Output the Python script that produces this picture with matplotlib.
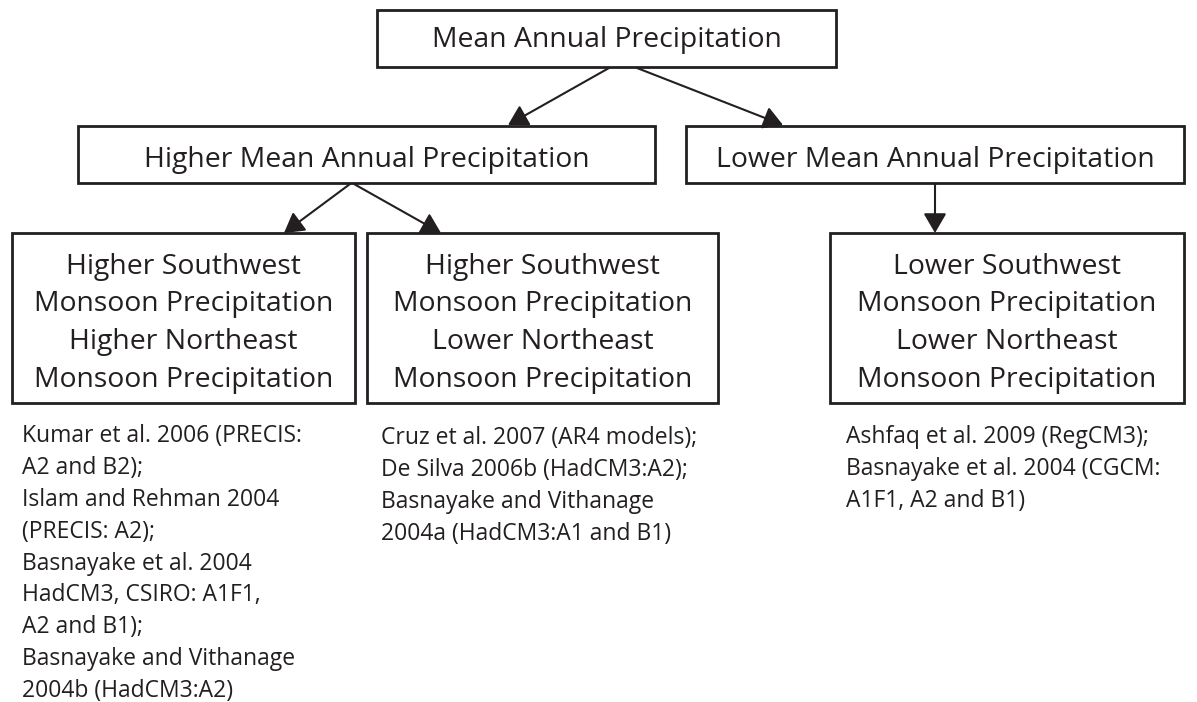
import matplotlib
matplotlib.use("Agg")
import matplotlib.pyplot as plt
from matplotlib.patches import Rectangle, FancyArrowPatch

plt.rcParams['font.family'] = ['Open Sans', 'DejaVu Sans']

# ---- content ----
box_labels = [
    "Mean Annual Precipitation",
    "Higher Mean Annual Precipitation",
    "Lower Mean Annual Precipitation",
    "Higher Southwest\nMonsoon Precipitation\nHigher Northeast\nMonsoon Precipitation",
    "Higher Southwest\nMonsoon Precipitation\nLower Northeast\nMonsoon Precipitation",
    "Lower Southwest\nMonsoon Precipitation\nLower Northeast\nMonsoon Precipitation",
]
# box extents in pixel space (x0, y0, x1, y1), y measured from top
box_extents = [
    (377, 10, 836, 67),
    (78, 126, 655, 183),
    (686, 126, 1184, 183),
    (12, 233, 355, 403),
    (367, 233, 718, 403),
    (830, 233, 1184, 403),
]
# last-line baseline of each box label
box_baselines = [47, 167, 167, 387, 387, 387]

references = [
    "Kumar et al. 2006 (PRECIS:\nA2 and B2);\nIslam and Rehman 2004\n(PRECIS: A2);\nBasnayake et al. 2004\nHadCM3, CSIRO: A1F1,\nA2 and B1);\nBasnayake and Vithanage\n2004b (HadCM3:A2)",
    "Cruz et al. 2007 (AR4 models);\nDe Silva 2006b (HadCM3:A2);\nBasnayake and Vithanage\n2004a (HadCM3:A1 and B1)",
    "Ashfaq et al. 2009 (RegCM3);\nBasnayake et al. 2004 (CGCM:\nA1F1, A2 and B1)",
]
# (left x, last-line baseline)
ref_positions = [(22, 697), (381, 540), (846, 507)]
arrows = [
    ((609, 68), (508, 125)),
    ((637, 68), (783, 125)),
    ((350, 184), (284, 233)),
    ((354, 184), (441, 233)),
    ((935, 184), (935, 233)),
]

W, H = 1197, 702
INK = '#231f20'
fig = plt.figure(figsize=(W / 100, H / 100), dpi=100)
ax = fig.add_axes([0, 0, 1, 1])
ax.set_xlim(0, W)
ax.set_ylim(H, 0)
ax.axis('off')

for (x0, y0, x1, y1), label, bl in zip(box_extents, box_labels, box_baselines):
    ax.add_patch(Rectangle((x0, y0), x1 - x0, y1 - y0, fill=False,
                           edgecolor=INK, linewidth=2.0))
    ax.text((x0 + x1) / 2, bl, label, ha='center', va='baseline',
            multialignment='center',
            fontsize=20.4, linespacing=1.467, color=INK)

for (xs, ys), (xe, ye) in arrows:
    ax.add_patch(FancyArrowPatch((xs, ys), (xe, ye),
                                 arrowstyle='-|>,head_length=0.6,head_width=0.35',
                                 mutation_scale=20, linewidth=1.5,
                                 color=INK, shrinkA=0, shrinkB=0))

for (x, y), txt in zip(ref_positions, references):
    ax.text(x, y, txt, ha='left', va='baseline', fontsize=16.5,
            linespacing=1.437, color=INK)

fig.savefig('out.png', dpi=100)
